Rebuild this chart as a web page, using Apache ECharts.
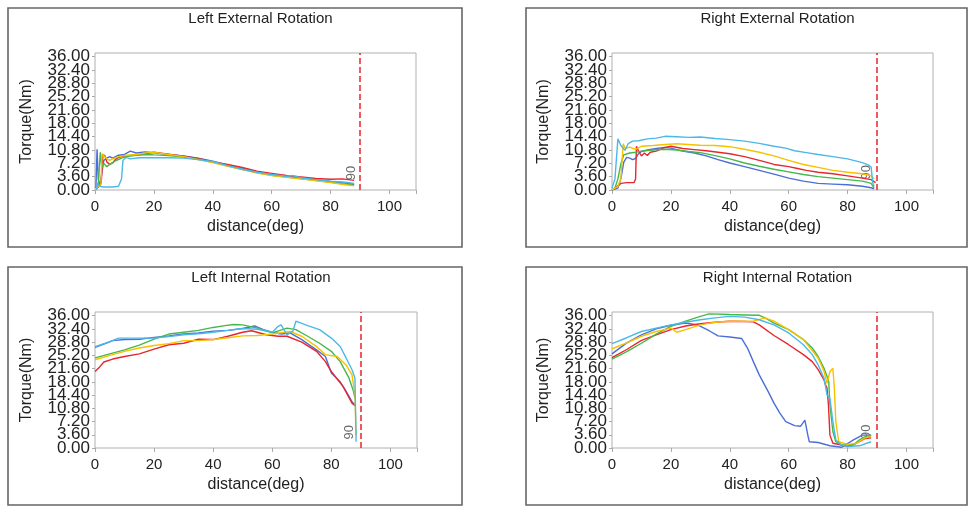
<!DOCTYPE html>
<html>
<head>
<meta charset="utf-8">
<title>Torque curves</title>
<script src="https://cdn.jsdelivr.net/npm/echarts@6/dist/echarts.min.js"></script>
<style>
  html, body { margin: 0; padding: 0; background: #fff; }
  #main { width: 968px; height: 507px; }
</style>
</head>
<body>
<div id="main"></div>
<script>
// ---- data: [distance(deg), torque(Nm)] ----
const yTicks = [0, 3.6, 7.2, 10.8, 14.4, 18, 21.6, 25.2, 28.8, 32.4, 36];
const xTicks = [0, 20, 40, 60, 80, 100];
const panelTitles = ['Left External Rotation', 'Right External Rotation', 'Left Internal Rotation', 'Right Internal Rotation'];
const lineNames = ['trial 1', 'trial 2', 'trial 3', 'trial 4', 'trial 5'];
const lineColors = ['#4a6fd6', '#e8262f', '#45b84b', '#f5c200', '#4cb8e8'];
const limitDeg = 90;
// where the rotated "90" note sits in each panel
const noteAt = [[87, 4.6], [86.4, 4.8], [86.2, 4.3], [86.4, 4.4]];

// Left External Rotation
const leBlue = [[0.3,0.5],[0.7,11],[1.1,3],[1.6,1],[2.4,5],[3,8],[4,8.6],[5,9],[6,8.6],[8,9.4],[10,9.6],[12,10.5],[14,10],[17,10.3],[20,10.1],[25,9.6],[30,9.2],[35,8.6],[40,7.8],[45,6.8],[50,5.9],[55,4.9],[60,4.2],[65,3.6],[70,3.2],[75,2.8],[80,2.3],[85,1.9],[88,1.5]];
const leRed = [[0.5,0.4],[1.5,1],[2.1,2],[2.7,9.6],[3.4,9.2],[4,7.6],[5,6.9],[6,7.3],[7,8.3],[8,8.8],[10,9.2],[13,9.4],[17,9.8],[20,10.2],[25,9.7],[30,9.1],[35,8.5],[40,7.6],[45,6.9],[50,6.1],[55,5.1],[60,4.5],[65,3.9],[70,3.5],[75,3.1],[80,2.9],[84,3.0],[88,2.6]];
const leGreen = [[0.5,0.3],[1.1,1],[1.8,10.2],[2.3,6.2],[3,7.2],[4,6.3],[5,6.9],[7,7.9],[9,8.6],[11,9.1],[14,9.4],[18,9.6],[20,9.5],[25,9.3],[30,8.9],[35,8.3],[40,7.5],[45,6.5],[50,5.6],[55,4.7],[60,4.0],[65,3.5],[70,3.0],[75,2.6],[80,2.1],[85,1.6],[88,1.3]];
const leYellow = [[0.5,0.5],[2,1.5],[2.4,9.8],[3,9.3],[4,8.4],[5,8],[6,8.4],[8,9],[10,9.3],[14,9.6],[18,10.1],[20,10.2],[25,9.6],[30,9.0],[35,8.2],[40,7.4],[45,6.4],[50,5.5],[55,4.6],[60,3.9],[65,3.4],[70,3.0],[75,2.5],[80,2.0],[85,1.4],[88,1.1]];
const leLightBlue = [[0.5,0],[1,2],[1.5,1],[3,0.8],[6,0.8],[8,1],[9,3],[9.5,8],[10.5,8.8],[12,8.4],[15,8.7],[20,8.7],[25,8.7],[30,8.6],[35,8.2],[40,7.7],[45,6.6],[50,5.6],[55,4.8],[60,4.2],[65,3.7],[67,3.9],[70,3.3],[75,2.8],[80,2.4],[85,2.1],[88,1.8]];

// Right External Rotation
const reBlue = [[0,0],[2,0.5],[3,3],[4,7.5],[5,8.8],[6,8.6],[7,8.2],[8,8.5],[9,9.8],[10,10.4],[12,10.8],[15,11.2],[18,11.5],[20,11.3],[24,10.5],[28,10],[32,9.2],[36,8.2],[40,7.3],[45,6.3],[50,5.3],[55,4.3],[60,3.2],[65,2.4],[70,1.8],[75,1.6],[80,1.4],[85,1],[88,0.6],[89,0.3]];
const reRed = [[0,0],[1,0.5],[3,1.8],[5,2],[7.5,2],[8,3],[8.3,11.8],[9,10.5],[10,9.2],[11,10],[12,9.3],[13,10.2],[15,10.5],[18,11.5],[20,11.8],[24,11.2],[28,10.9],[32,10.6],[36,10.2],[40,9.8],[45,9],[50,8],[52,7.6],[55,6.9],[60,6.3],[63,5.8],[66,5.3],[70,4.8],[75,4.4],[80,3.8],[85,3.2],[88,2.8],[89.5,2]];
const reGreen = [[0,0],[1,0.5],[2,3],[3,7],[4,9.5],[6,10],[8,10.2],[10,10.5],[14,10.8],[18,11],[22,10.8],[26,10.4],[30,10.1],[35,9.3],[40,8.4],[45,7.3],[50,6.4],[55,5.6],[60,4.9],[65,4.2],[70,3.6],[75,3.2],[80,2.8],[85,2.4],[88,1.8],[89,0.5]];
const reYellow = [[0,0],[2,1],[3,3],[3.8,12.5],[4.5,11.2],[6,11.6],[8,11],[10,11.8],[14,12],[18,12.3],[22,12.5],[26,12.3],[30,12.1],[35,12],[40,11.7],[45,11],[50,10.2],[55,9.2],[60,8],[65,6.9],[70,6.1],[75,5.3],[80,4.8],[85,4.4],[88,3.8],[89,3]];
const reLightBlue = [[0,0.5],[1,3],[2,13.8],[3,12],[4.4,10.7],[5.5,12.5],[7,13.2],[9,13.3],[12,13.8],[15,14],[18,14.5],[22,14.4],[26,14.2],[30,14.3],[35,13.9],[40,13.6],[45,13.2],[50,12.6],[55,11.8],[59,11.3],[62,10.6],[66,10.1],[70,9.6],[75,9],[80,8.4],[85,7.4],[87,6.8],[88,6.2],[88.5,2],[89,1]];

// Left Internal Rotation
const liBlue = [[0,27.4],[3,28.3],[6,29.2],[10,29.5],[15,29.6],[20,30.1],[25,30.5],[30,31],[35,31.3],[40,31.8],[45,32],[50,32.5],[54,33.2],[57,32.2],[60,31.5],[63,31],[66,31.3],[70,29.5],[73,27.8],[75,26.7],[78,24.9],[80,20.4],[83,18],[85,15.4],[87,12.6],[88,11.7]];
const liRed = [[0,20.8],[1.5,22],[3,23.4],[6,24.2],[10,24.9],[15,25.6],[20,26.9],[25,28.1],[30,28.5],[35,29.6],[40,29.5],[45,30.4],[50,31.5],[53,31.9],[58,30.8],[62,30.4],[65,30.4],[70,28.8],[75,26.3],[78,23.5],[80,20.8],[84,16.7],[87,12.2],[88,11.5]];
const liGreen = [[0,24.5],[5,25.6],[10,26.7],[15,28],[20,29.6],[25,31],[30,31.5],[35,32],[40,32.8],[44,33.3],[47,33.6],[50,33.5],[55,32.6],[60,31.3],[65,32.6],[68,32.2],[72,30.4],[76,28.5],[80,26.3],[83,23.5],[86,19],[87.5,15.4],[88,13.5]];
const liYellow = [[0,24],[5,25.2],[10,26.3],[15,27.2],[20,27.9],[25,28.4],[30,29.2],[35,29.2],[40,29.5],[45,30],[50,30.5],[55,30.6],[60,31],[66,31.7],[70,30.4],[75,27.6],[78,25.4],[82,24.9],[85,22.6],[87,19.9],[88,14.5],[88.3,5.4],[88.5,3.5]];
const liLightBlue = [[0,27.6],[4,28.6],[8,29.9],[14,29.9],[20,29.9],[25,30.3],[30,30.8],[35,31.1],[40,31.5],[45,32],[50,32.5],[55,32.3],[60,31.5],[62,33.1],[63,33.5],[65,30.8],[67,31.8],[68,34.5],[72,33.3],[76,32.2],[80,29.9],[83,27.6],[85,24.5],[87,21.3],[88,19],[88.2,10],[88.4,1.7]];

// Right Internal Rotation
const riBlue = [[0,25.6],[5,28.6],[10,30.8],[15,32.4],[20,33.4],[25,34],[29,33.5],[33,31.9],[36,30.5],[40,30.2],[44,29.8],[46,27.2],[48,23.5],[50,19.9],[53,15.4],[55,12.2],[57,9.5],[59,7.2],[62,6.1],[64,5.9],[65.5,7.6],[66.5,3.5],[67,1.7],[70,1.5],[74,0.6],[78,0.2],[82,2.2],[85,3.5],[88,3.5]];
const riRed = [[0,24.6],[5,26.8],[10,29.3],[15,30.8],[20,32.2],[25,33.2],[30,33.8],[35,34.2],[40,34.5],[45,34.4],[48,34.3],[50,33.5],[55,30.6],[60,28.1],[65,25.4],[68,23.5],[70,21.3],[72,18.5],[72.5,17.2],[73,16.3],[73.5,11.7],[74,3.5],[75,1.3],[78,0.8],[80,0.4],[83,1.3],[86,2.6],[88,2.8]];
const riGreen = [[0,24.2],[5,26.2],[10,28.5],[15,31],[20,33.1],[25,34.5],[30,35.8],[33,36.5],[40,36.3],[45,36.2],[50,36.1],[52,35.4],[55,34],[60,32.2],[65,29.5],[68,27.2],[70,24.9],[72,21.7],[73,19.5],[73.6,18],[74,11.7],[75,4.5],[76,1.7],[78,0.8],[82,0.9],[84,2.2],[86,3.1],[88,3.5]];
const riYellow = [[0,27],[5,28.6],[10,30.4],[15,31.7],[20,32.6],[22,31.5],[25,32.2],[30,33.5],[35,34.2],[40,34.5],[48,34.5],[52,35.4],[55,34.5],[60,32.2],[65,29.5],[70,24.5],[72,20.8],[73,17.6],[74,20.8],[75,21.7],[75.5,16.3],[76,7.2],[77,1.7],[80,1],[83,1.3],[86,2.8],[88,3.1]];
const riLightBlue = [[0,28.4],[5,30],[10,31.7],[15,32.6],[20,33.5],[25,34.2],[30,34.9],[35,35.4],[40,35.8],[45,35.6],[50,34.9],[55,33.5],[60,31.3],[65,28.1],[68,25.4],[70,22.6],[72,19],[73,14.5],[74,13.5],[75,7.2],[76,2.2],[78,0.8],[80,0.4],[84,0.6],[88,1.7]];

const panelData = [
  [leBlue, leRed, leGreen, leYellow, leLightBlue],
  [reBlue, reRed, reGreen, reYellow, reLightBlue],
  [liBlue, liRed, liGreen, liYellow, liLightBlue],
  [riBlue, riRed, riGreen, riYellow, riLightBlue]
];

// ---- layout ----
const grids = [
  { left: 95, top: 53, width: 321, height: 137 },
  { left: 612, top: 53, width: 321, height: 137 },
  { left: 95, top: 312, width: 322, height: 136 },
  { left: 612, top: 312, width: 321, height: 136 }
];
const frames = [
  { x: 8, y: 8, width: 454, height: 239 },
  { x: 526, y: 8, width: 441, height: 239 },
  { x: 8, y: 267, width: 454, height: 238 },
  { x: 526, y: 267, width: 441, height: 238 }
];

const textColor = '#222';
const fontFamily = '"Liberation Sans", Arial, sans-serif';

function onTick(v, list) {
  for (let i = 0; i < list.length; i++) {
    if (Math.abs(v - list[i]) < 1e-6) return true;
  }
  return false;
}

const option = {
  animation: false,
  backgroundColor: '#fff',
  textStyle: { fontFamily: fontFamily },
  title: [],
  grid: [],
  xAxis: [],
  yAxis: [],
  series: [],
  graphic: frames.map(function (f) {
    return {
      type: 'rect',
      shape: { x: f.x, y: f.y, width: f.width, height: f.height },
      style: { fill: 'none', stroke: '#666', lineWidth: 1.6 },
      silent: true
    };
  })
};

for (let p = 0; p < 4; p++) {
  const g = grids[p];
  option.grid.push({
    left: g.left, top: g.top, width: g.width, height: g.height,
    show: true, borderColor: '#b0b0b0', borderWidth: 1, backgroundColor: 'transparent'
  });
  option.title.push({
    text: panelTitles[p],
    left: g.left + g.width / 2,
    top: g.top - 47,
    textAlign: 'center',
    textStyle: { fontSize: 15, fontWeight: 'normal', color: textColor, fontFamily: fontFamily }
  });
  option.xAxis.push({
    type: 'value', gridIndex: p, min: 0, max: 109, interval: 20,
    name: 'distance(deg)', nameLocation: 'middle', nameGap: 29,
    nameTextStyle: { fontSize: 16, color: textColor },
    axisLine: { show: false },
    axisTick: { show: true, length: 4, lineStyle: { color: '#aaa' } },
    splitLine: { show: false },
    axisLabel: {
      fontSize: 15, color: textColor, margin: 9, showMinLabel: true,
      formatter: function (v) { return onTick(v, xTicks) ? String(v) : ''; }
    }
  });
  // half-step interval: every other label is blank, so the crowded
  // 0.00 / 3.60 pair is not treated as overlapping
  option.yAxis.push({
    type: 'value', gridIndex: p, min: 0, max: 37, interval: 1.8,
    name: 'Torque(Nm)', nameLocation: 'middle', nameGap: 60,
    nameTextStyle: { fontSize: 16, color: textColor },
    axisLine: { show: false },
    axisTick: { show: true, length: 3, customValues: yTicks, lineStyle: { color: '#aaa' } },
    splitLine: { show: false },
    axisLabel: {
      fontSize: 17, color: textColor, margin: 5,
      showMinLabel: true, hideOverlap: false,
      formatter: function (v) { return onTick(v, yTicks) ? v.toFixed(2) : ''; }
    }
  });

  panelData[p].forEach(function (pts, k) {
    const s = {
      name: lineNames[k],
      type: 'line',
      xAxisIndex: p,
      yAxisIndex: p,
      data: pts,
      showSymbol: false,
      clip: true,
      lineStyle: { width: 1.4, color: lineColors[k] },
      itemStyle: { color: lineColors[k] },
      silent: true
    };
    if (k === 0) {
      // dashed red limit at 90 deg
      s.markLine = {
        silent: true,
        symbol: ['none', 'none'],
        label: { show: false },
        lineStyle: { color: '#e8262f', type: 'dashed', width: 1.5 },
        data: [{ xAxis: limitDeg }]
      };
    }
    option.series.push(s);
  });

  // the small rotated "90" note near the end of the curves
  option.series.push({
    type: 'scatter',
    xAxisIndex: p,
    yAxisIndex: p,
    data: [noteAt[p]],
    symbolSize: 1,
    itemStyle: { color: 'rgba(0,0,0,0)' },
    silent: true,
    label: {
      show: true, position: 'inside', formatter: String(limitDeg),
      rotate: 90, fontSize: 13, color: '#444'
    }
  });
}

const chart = echarts.init(document.getElementById('main'));
chart.setOption(option);
</script>
</body>
</html>
